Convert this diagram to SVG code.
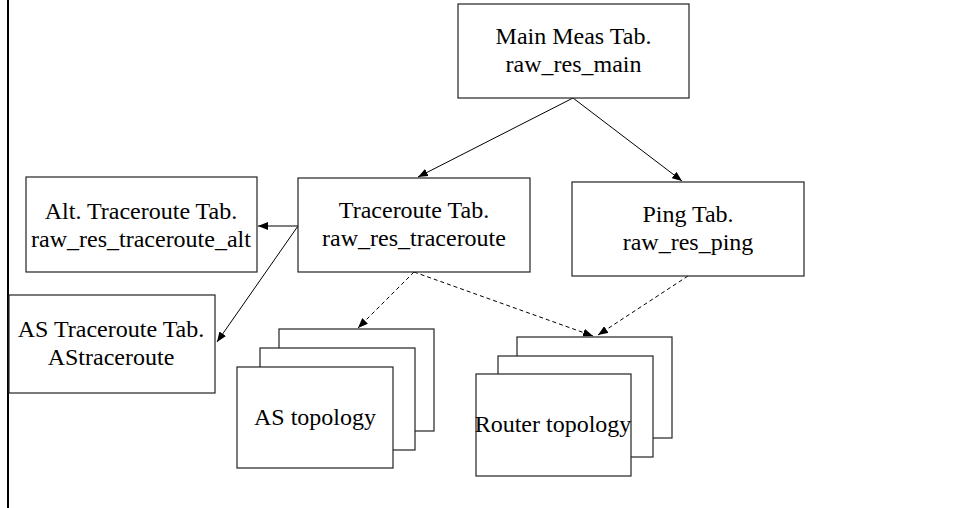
<svg xmlns="http://www.w3.org/2000/svg" width="954" height="508" viewBox="0 0 954 508">
  <defs>
    <marker id="arrow" viewBox="0 0 10 8" refX="10" refY="4" markerWidth="10" markerHeight="8" markerUnits="userSpaceOnUse" orient="auto">
      <path d="M0,0 L10,4 L0,8 z" fill="#000"/>
    </marker>
    <style>
      .box { fill: #fff; stroke: #222; stroke-width: 1.2; }
      .lbl { font-family: "Liberation Serif", "Times New Roman", serif; font-size: 24px; fill: #000; text-anchor: middle; }
      .edge { fill: none; stroke: #000; stroke-width: 1; marker-end: url(#arrow); }
      .dash { stroke-dasharray: 4 3; }
    </style>
  </defs>

  <rect x="0" y="0" width="954" height="508" fill="#fff"/>
  <!-- page margin rule -->
  <line x1="8" y1="0" x2="8" y2="508" stroke="#000" stroke-width="2"/>

  <g id="connectors">
    <line class="edge" x1="573" y1="98" x2="418" y2="177"/>
    <line class="edge" x1="573" y1="98" x2="682" y2="181"/>
    <line class="edge" x1="298" y1="226" x2="258" y2="226"/>
    <line class="edge" x1="298" y1="226" x2="217" y2="342"/>
    <line class="edge dash" x1="414" y1="272" x2="358" y2="328"/>
    <line class="edge dash" x1="414" y1="272" x2="593" y2="336"/>
    <line class="edge dash" x1="688" y1="276" x2="598" y2="335"/>
  </g>

  <g id="main-meas">
    <rect class="box" x="458" y="4" width="231" height="94"/>
    <text class="lbl" x="573.5" y="44">Main Meas Tab.</text>
    <text class="lbl" x="573.5" y="72">raw_res_main</text>
  </g>

  <g id="traceroute">
    <rect class="box" x="298" y="178" width="232" height="94"/>
    <text class="lbl" x="414" y="218">Traceroute Tab.</text>
    <text class="lbl" x="414" y="246">raw_res_traceroute</text>
  </g>

  <g id="ping">
    <rect class="box" x="572" y="182" width="232" height="94"/>
    <text class="lbl" x="688" y="222">Ping Tab.</text>
    <text class="lbl" x="688" y="250">raw_res_ping</text>
  </g>

  <g id="alt-traceroute">
    <rect class="box" x="26" y="177" width="231" height="95"/>
    <text class="lbl" x="141" y="219">Alt. Traceroute Tab.</text>
    <text class="lbl" x="141" y="247">raw_res_traceroute_alt</text>
  </g>

  <g id="as-traceroute">
    <rect class="box" x="9" y="295" width="206" height="98"/>
    <text class="lbl" x="111" y="337">AS Traceroute Tab.</text>
    <text class="lbl" x="111" y="365">AStraceroute</text>
  </g>

  <g id="as-topology">
    <rect class="box" x="279" y="329" width="155" height="102"/>
    <rect class="box" x="260" y="348" width="155" height="102"/>
    <rect class="box" x="237" y="367" width="156" height="101"/>
    <text class="lbl" x="315" y="425">AS topology</text>
  </g>

  <g id="router-topology">
    <rect class="box" x="517" y="337" width="155" height="101"/>
    <rect class="box" x="498" y="356" width="155" height="101"/>
    <rect class="box" x="476" y="374" width="155" height="102"/>
    <text class="lbl" x="553" y="432">Router topology</text>
  </g>
</svg>
